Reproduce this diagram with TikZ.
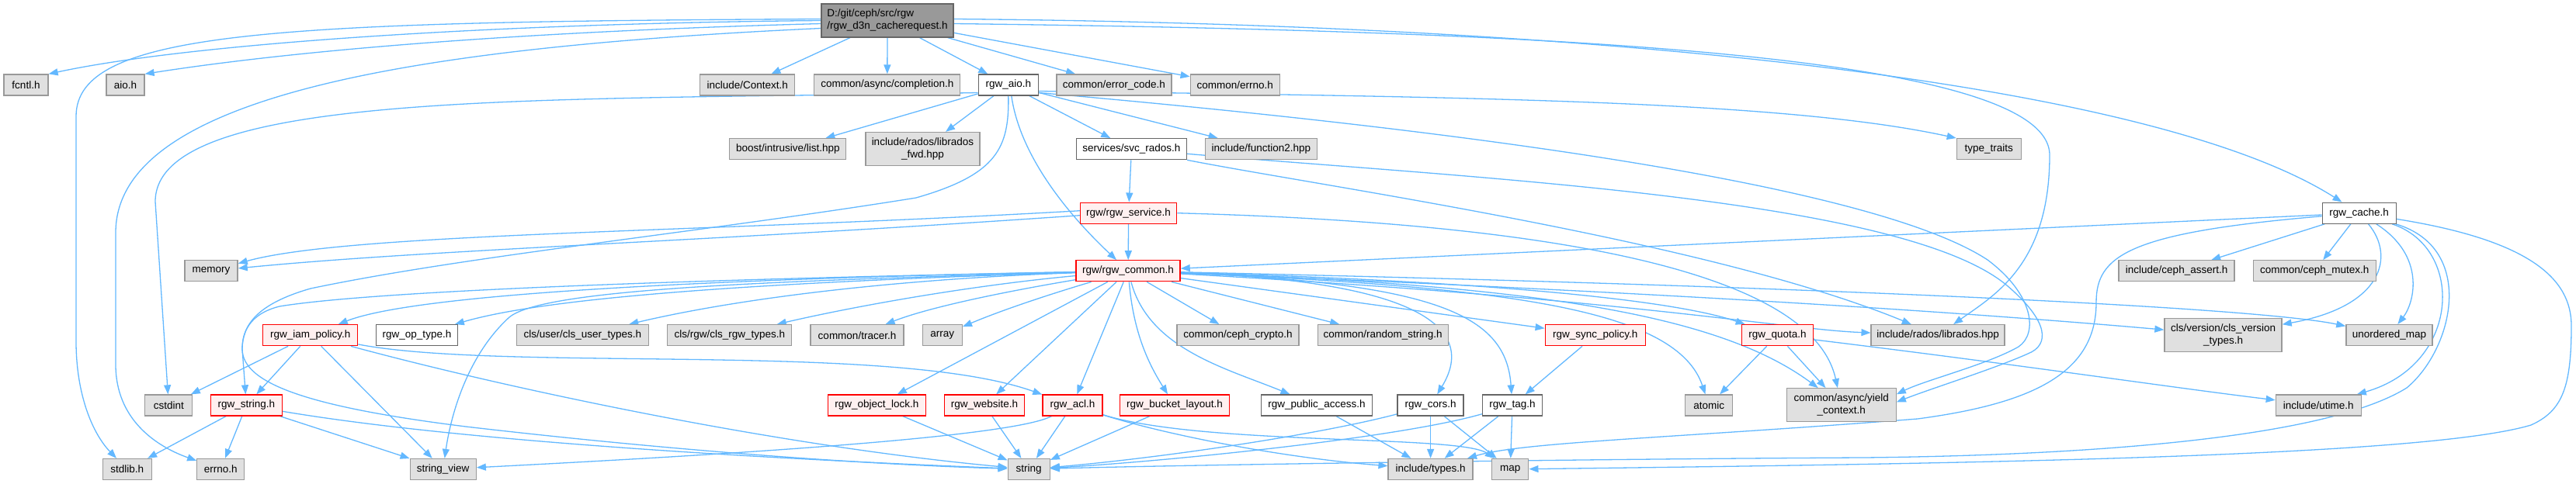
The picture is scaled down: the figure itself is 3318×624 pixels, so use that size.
\documentclass[tikz,border=0pt]{standalone}
\usepackage{fontspec}
\setmainfont{Liberation Sans}
\usetikzlibrary{arrows.meta,backgrounds}
\definecolor{edgeblue}{HTML}{63B8FF}
\definecolor{extfill}{HTML}{E0E0E0}
\definecolor{extborder}{HTML}{999999}
\definecolor{docborder}{HTML}{666666}
\definecolor{rootfill}{HTML}{999999}
\definecolor{redfill}{HTML}{FFF0F0}
\definecolor{redborder}{HTML}{FF0000}

\begin{document}
\begin{tikzpicture}[x=1bp,y=-1bp]
\tikzset{
  filebox/.style={rectangle,draw,line width=1.3bp,inner sep=0pt,minimum height=27bp,align=center,font=\fontsize{13.5bp}{16bp}\selectfont},
  extfile/.style={filebox,draw=extborder,fill=extfill},
  docfile/.style={filebox,draw=docborder,fill=white},
  redfile/.style={filebox,draw=redborder,fill=redfill},
  rootfile/.style={filebox,draw=docborder,fill=rootfill,align=left},
  dep/.style={-{Triangle[length=12bp,width=9bp]},draw=edgeblue,line width=1.3bp}
}
\useasboundingbox (0,0) rectangle (3318,624);
% row 1
\node[rootfile,minimum width=170bp,minimum height=43bp] (n_root) at (1143,26.5) {D:/git/ceph/src/rgw\\/rgw\_d3n\_cacherequest.h};
\node[extfile,minimum width=57bp] (n_fcntl) at (33.5,109.5) {fcntl.h};
\node[extfile,minimum width=49bp] (n_aio) at (161.5,109.5) {aio.h};
\node[extfile,minimum width=122bp] (n_context) at (962.7,109.5) {include/Context.h};
\node[extfile,minimum width=188bp] (n_completion) at (1142.8,109.5) {common/async/completion.h};
\node[docfile,minimum width=77bp] (n_rgwaio) at (1298.8,109.5) {rgw\_aio.h};
\node[extfile,minimum width=148bp] (n_errorcode) at (1434.9,109.5) {common/error\_code.h};
\node[extfile,minimum width=115bp] (n_cerrno) at (1590.7,109.5) {common/errno.h};
% row 2
\node[extfile,minimum width=150bp] (n_boostlist) at (1014.8,192.2) {boost/intrusive/list.hpp};
\node[extfile,minimum width=147bp,minimum height=43bp] (n_libradosfwd) at (1188.4,192) {include/rados/librados\\\_fwd.hpp};
\node[docfile,minimum width=142bp] (n_svcrados) at (1457.4,192.2) {services/svc\_rados.h};
\node[extfile,minimum width=144bp] (n_function2) at (1624.3,192.2) {include/function2.hpp};
\node[extfile,minimum width=83bp] (n_typetraits) at (2561.8,192.2) {type\_traits};
% row 3
\node[redfile,minimum width=124bp] (n_rgwservice) at (1453.6,274.7) {rgw/rgw\_service.h};
\node[docfile,minimum width=95bp] (n_rgwcache) at (3038.7,274.7) {rgw\_cache.h};
% row 4
\node[extfile,minimum width=68bp] (n_memory) at (272.1,349.3) {memory};
\node[redfile,minimum width=134bp] (n_rgwcommon) at (1453.1,349.3) {rgw/rgw\_common.h};
\node[extfile,minimum width=149bp] (n_cephassert) at (2803.6,349.3) {include/ceph\_assert.h};
\node[extfile,minimum width=158bp] (n_cephmutex) at (2981.3,349.3) {common/ceph\_mutex.h};
% row 5
\node[redfile,minimum width=122bp] (n_iampolicy) at (399.7,432.2) {rgw\_iam\_policy.h};
\node[docfile,minimum width=105bp] (n_optype) at (537,432.2) {rgw\_op\_type.h};
\node[extfile,minimum width=170bp] (n_clsuser) at (750.4,432.2) {cls/user/cls\_user\_types.h};
\node[extfile,minimum width=160bp] (n_clsrgw) at (939.8,432.2) {cls/rgw/cls\_rgw\_types.h};
\node[extfile,minimum width=120bp] (n_tracer) at (1104,432.2) {common/tracer.h};
\node[extfile,minimum width=51bp] (n_array) at (1213.8,432.2) {array};
\node[extfile,minimum width=157bp] (n_cephcrypto) at (1594.5,432.2) {common/ceph\_crypto.h};
\node[extfile,minimum width=168bp] (n_randomstring) at (1781.2,432.2) {common/random\_string.h};
\node[redfile,minimum width=129bp] (n_syncpolicy) at (2054.7,432.2) {rgw\_sync\_policy.h};
\node[redfile,minimum width=92bp] (n_quota) at (2289.5,432.2) {rgw\_quota.h};
\node[extfile,minimum width=172bp] (n_librados) at (2496.1,432.2) {include/rados/librados.hpp};
\node[extfile,minimum width=151bp,minimum height=43bp] (n_clsversion) at (2863.5,431.8) {cls/version/cls\_version\\\_types.h};
\node[extfile,minimum width=111bp] (n_unorderedmap) at (3077.4,432.2) {unordered\_map};
% row 6
\node[extfile,minimum width=61bp] (n_cstdint) at (217.3,522.5) {cstdint};
\node[redfile,minimum width=92bp] (n_rgwstring) at (317.4,522.5) {rgw\_string.h};
\node[redfile,minimum width=126bp] (n_objectlock) at (1129.4,522.5) {rgw\_object\_lock.h};
\node[redfile,minimum width=103bp] (n_website) at (1268.1,522.5) {rgw\_website.h};
\node[redfile,minimum width=77bp] (n_acl) at (1381.4,522.5) {rgw\_acl.h};
\node[redfile,minimum width=141bp] (n_bucketlayout) at (1512.9,522.5) {rgw\_bucket\_layout.h};
\node[docfile,minimum width=143bp] (n_publicaccess) at (1696,522.5) {rgw\_public\_access.h};
\node[docfile,minimum width=85bp] (n_cors) at (1842.6,522.5) {rgw\_cors.h};
\node[docfile,minimum width=77bp] (n_tag) at (1948,522.5) {rgw\_tag.h};
\node[extfile,minimum width=61bp] (n_atomic) at (2201.3,522.5) {atomic};
\node[extfile,minimum width=141bp,minimum height=43bp] (n_yield) at (2371.7,522.3) {common/async/yield\\\_context.h};
\node[extfile,minimum width=110bp] (n_utime) at (2986.3,522.5) {include/utime.h};
% row 7
\node[extfile,minimum width=63bp] (n_stdlib) at (163.8,605) {stdlib.h};
\node[extfile,minimum width=61bp] (n_errnoh) at (284.3,605) {errno.h};
\node[extfile,minimum width=85bp] (n_stringview) at (570.7,605) {string\_view};
\node[extfile,minimum width=54bp] (n_string) at (1325.2,605) {string};
\node[extfile,minimum width=109bp] (n_types) at (1842.6,605) {include/types.h};
\node[extfile,minimum width=47bp] (n_map) at (1945.3,605) {map};

\begin{scope}[on background layer]
% from the root file
\draw[dep] (n_root.west) .. controls (650,30) and (250,55) .. (n_fcntl.north east);
\draw[dep] ([yshift=-4bp]n_root.west) .. controls (700,40) and (400,62) .. (n_aio.north east);
\draw[dep] ([yshift=2bp]n_root.west) .. controls (350,28) and (98,40) .. (98,150) -- (98,440) .. controls (98,510) and (120,560) .. (n_stdlib);
\draw[dep] ([yshift=-10bp]n_root.west) .. controls (550,60) and (149,120) .. (149,300) -- (149,470) .. controls (149,540) and (200,575) .. (n_errnoh);
\draw[dep] (n_root) -- (n_context);
\draw[dep] (n_root) -- (n_completion);
\draw[dep] (n_root) -- (n_rgwaio);
\draw[dep] (n_root) -- (n_errorcode);
\draw[dep] (n_root) -- (n_cerrno);
\draw[dep] ([yshift=2bp]n_root.east) .. controls (2100,32) and (2780,110) .. (n_rgwcache);
\draw[dep] ([yshift=-4bp]n_root.east) .. controls (2000,40) and (2640,70) .. (2640,200) .. controls (2640,340) and (2570,380) .. (n_librados);
% rgw_aio.h
\draw[dep] (n_rgwaio) -- (n_boostlist);
\draw[dep] (n_rgwaio) -- (n_libradosfwd);
\draw[dep] (n_rgwaio) -- (n_svcrados);
\draw[dep] (n_rgwaio) -- (n_function2);
\draw[dep] ([yshift=-8bp]n_rgwaio.east) .. controls (1900,125) and (2300,130) .. (n_typetraits.north west);
\draw[dep] ([yshift=-10bp]n_rgwaio.west) .. controls (700,130) and (200,115) .. (200,260) -- (n_cstdint);
\draw[dep] (n_rgwaio.south) .. controls (1300,190) and (1285,225) .. (1180,255) .. controls (900,300) and (600,330) .. (400,372) .. controls (330,392) and (312,420) .. (312,450) .. controls (312,495) and (400,525) .. (600,550) .. controls (900,585) and (1150,600) .. (n_string);
\draw[dep] ([xshift=4bp]n_rgwaio.south) .. controls (1315,210) and (1390,290) .. (n_rgwcommon);
\draw[dep] ([yshift=-10bp]n_rgwaio.east) .. controls (1800,160) and (2400,230) .. (2560,335) .. controls (2620,380) and (2625,430) .. (2600,447) .. controls (2560,470) and (2480,490) .. ([yshift=14bp]n_yield.east);
% services/svc_rados.h
\draw[dep] (n_svcrados) -- (n_rgwservice);
\draw[dep] (n_svcrados) .. controls (1700,240) and (2200,310) .. (n_librados);
\draw[dep] (n_svcrados) .. controls (1900,230) and (2450,255) .. (2585,368) .. controls (2640,415) and (2640,445) .. (2612,456) .. controls (2570,475) and (2490,500) .. ([yshift=4bp]n_yield.east);
% rgw/rgw_service.h
\draw[dep] (n_rgwservice) -- (n_rgwcommon);
\draw[dep] ([yshift=3bp]n_rgwservice.west) .. controls (900,300) and (450,300) .. (n_memory);
\draw[dep] ([yshift=-3bp]n_rgwservice.west) .. controls (900,312) and (550,322) .. (n_memory);
\draw[dep] (n_rgwservice.east) .. controls (1900,285) and (2330,330) .. (n_yield);
% rgw_cache.h
\draw[dep] (n_rgwcache) -- (n_rgwcommon);
\draw[dep] (n_rgwcache) -- (n_cephassert);
\draw[dep] (n_rgwcache) -- (n_cephmutex);
\draw[dep] (n_rgwcache) .. controls (3085,330) and (3070,395) .. (n_clsversion);
\draw[dep] (n_rgwcache) .. controls (3125,330) and (3110,390) .. (n_unorderedmap);
\draw[dep] (n_rgwcache) .. controls (3175,320) and (3170,470) .. (n_utime);
\draw[dep] (n_rgwcache) .. controls (2740,300) and (2700,330) .. (2700,390) .. controls (2700,480) and (2620,520) .. (2470,540) .. controls (2150,565) and (1960,570) .. (n_types);
\draw[dep] (n_rgwcache) .. controls (3190,320) and (3160,450) .. (3100,500) .. controls (2980,575) and (2600,588) .. (2400,590) .. controls (2000,592) and (1500,600) .. (n_string);
\draw[dep] (n_rgwcache) .. controls (3260,310) and (3312,360) .. (3312,420) .. controls (3312,500) and (3300,530) .. (3260,548) .. controls (3120,590) and (2500,598) .. (n_map);
% rgw/rgw_common.h
\draw[dep] (n_rgwcommon) .. controls (800,362) and (520,385) .. (n_iampolicy);
\draw[dep] (n_rgwcommon) .. controls (950,365) and (700,385) .. (n_optype);
\draw[dep] (n_rgwcommon) .. controls (1150,360) and (950,385) .. (n_clsuser);
\draw[dep] (n_rgwcommon) .. controls (1250,368) and (1100,395) .. (n_clsrgw);
\draw[dep] (n_rgwcommon) .. controls (1300,375) and (1200,395) .. (n_tracer);
\draw[dep] (n_rgwcommon) .. controls (1350,380) and (1290,400) .. (n_array);
\draw[dep] (n_rgwcommon) .. controls (1000,362) and (700,372) .. (656,409) .. controls (600,460) and (580,540) .. (n_stringview);
\draw[dep] (n_rgwcommon) .. controls (1000,358) and (500,372) .. (360,395) .. controls (320,405) and (312,430) .. (312,450) -- (n_rgwstring);
\draw[dep] (n_rgwcommon) -- (n_objectlock);
\draw[dep] (n_rgwcommon) -- (n_website);
\draw[dep] (n_rgwcommon) -- (n_acl);
\draw[dep] (n_rgwcommon) .. controls (1460,430) and (1480,470) .. (n_bucketlayout);
\draw[dep] (n_rgwcommon) .. controls (1480,450) and (1580,475) .. (n_publicaccess);
\draw[dep] (n_rgwcommon) -- (n_cephcrypto);
\draw[dep] (n_rgwcommon) -- (n_randomstring);
\draw[dep] (n_rgwcommon) .. controls (1820,362) and (1905,420) .. (n_cors);
\draw[dep] (n_rgwcommon) .. controls (1860,365) and (1940,410) .. (n_tag);
\draw[dep] (n_rgwcommon) -- (n_syncpolicy);
\draw[dep] (n_rgwcommon) .. controls (1900,362) and (2150,385) .. (n_quota);
\draw[dep] (n_rgwcommon) .. controls (1950,370) and (2160,400) .. (n_atomic);
\draw[dep] (n_rgwcommon) .. controls (2000,368) and (2220,410) .. (n_yield);
\draw[dep] (n_rgwcommon) .. controls (2100,385) and (2300,425) .. (n_librados);
\draw[dep] (n_rgwcommon) .. controls (2100,375) and (2500,400) .. (n_clsversion);
\draw[dep] (n_rgwcommon) .. controls (2300,368) and (2900,395) .. (n_unorderedmap);
% rgw_iam_policy.h
\draw[dep] (n_iampolicy) -- (n_cstdint);
\draw[dep] (n_iampolicy) -- (n_rgwstring);
\draw[dep] (n_iampolicy) -- (n_stringview);
\draw[dep] (n_iampolicy) .. controls (650,500) and (1000,575) .. (n_string);
\draw[dep] (n_iampolicy) .. controls (650,480) and (1150,440) .. (n_acl);
% rgw_string.h
\draw[dep] (n_rgwstring) -- (n_stdlib);
\draw[dep] (n_rgwstring) -- (n_errnoh);
\draw[dep] (n_rgwstring) -- (n_stringview);
\draw[dep] (n_rgwstring) .. controls (600,570) and (1000,592) .. (n_string);
% rgw_acl.h
\draw[dep] (n_acl) .. controls (1300,565) and (900,588) .. (n_stringview);
\draw[dep] (n_acl) -- (n_string);
\draw[dep] (n_acl) .. controls (1500,560) and (1650,590) .. (n_types);
\draw[dep] (n_acl) .. controls (1550,575) and (1880,560) .. (n_map);
% the rest
\draw[dep] (n_objectlock) -- (n_string);
\draw[dep] (n_website) -- (n_string);
\draw[dep] (n_bucketlayout) -- (n_string);
\draw[dep] (n_publicaccess) -- (n_types);
\draw[dep] (n_cors) .. controls (1700,560) and (1500,590) .. (n_string);
\draw[dep] (n_cors) -- (n_types);
\draw[dep] (n_cors) -- (n_map);
\draw[dep] (n_tag) .. controls (1800,565) and (1500,595) .. (n_string);
\draw[dep] (n_tag) -- (n_types);
\draw[dep] (n_tag) -- (n_map);
\draw[dep] (n_syncpolicy) -- (n_tag);
\draw[dep] (n_quota) -- (n_atomic);
\draw[dep] (n_quota) -- (n_yield);
\draw[dep] (n_quota) .. controls (2600,470) and (2800,500) .. (n_utime);
\end{scope}
\end{tikzpicture}
\end{document}
